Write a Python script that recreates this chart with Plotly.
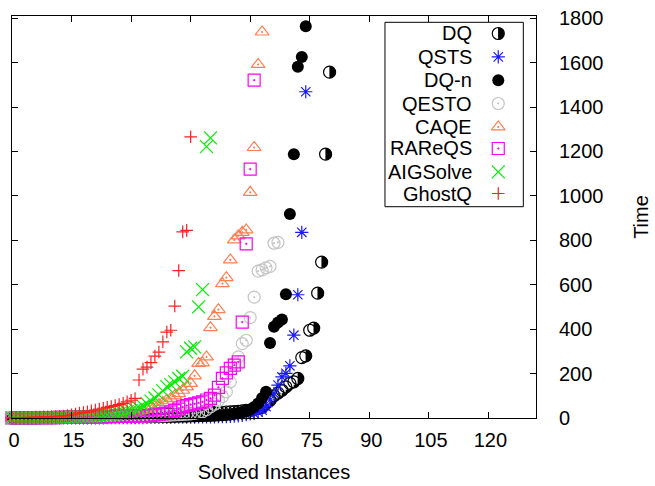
import plotly.graph_objects as go

# ---------------- data (sorted solving times; x = solved-instance index, 0-based) -------------
series_names = ["DQ", "QSTS", "DQ-n", "QESTO", "CAQE", "RAReQS", "AIGSolve", "GhostQ"]

dq_times = [0, 0, 0, 1, 1, 1, 1, 2, 2, 2, 2, 3, 3, 3, 4, 4, 4, 5, 5, 5,
            6, 6, 6, 7, 7, 8, 8, 9, 9, 10, 10, 11, 11, 12, 12, 13, 13, 14, 15, 15,
            16, 16, 17, 18, 18, 19, 20, 20, 21, 22, 23, 24, 25, 26, 27, 28, 29, 30, 32, 34,
            36, 39, 43, 48, 66, 80, 100, 112, 125, 140,
            156, 163, 178, 272, 280, 395, 405, 562, 702, 1188, 1557]

qsts_times = [0, 0, 0, 0, 0, 0, 0, 0, 0, 0, 1, 1, 1, 1, 1, 1, 1, 1, 1, 1,
              1, 1, 1, 1, 2, 2, 2, 2, 2, 2, 2, 2, 2, 2, 3, 3, 3, 3, 3, 3,
              3, 4, 4, 4, 4, 4, 4, 5, 5, 5, 5, 5, 6, 6, 6, 7, 8, 10, 12, 15,
              18, 20, 26, 35, 51, 81, 111, 148, 185, 201, 235, 373, 555, 836, 1469]

dqn_times = [0, 0, 0, 0, 0, 0, 0, 0, 1, 1, 1, 1, 1, 1, 1, 1, 1, 2, 2, 2,
             2, 2, 2, 2, 2, 3, 3, 3, 3, 3, 3, 3, 4, 4, 4, 4, 4, 4, 5, 5,
             5, 5, 6, 6, 6, 7, 7, 8, 8, 9, 9, 10, 11, 12, 13, 16, 19, 22, 26, 30,
             38, 50, 65, 90, 118, 338, 411, 430, 444, 557, 919, 1188, 1581, 1625, 1764]

qesto_times = [0, 0, 0, 0, 0, 0, 1, 1, 1, 1, 1, 1, 2, 2, 2, 2, 2, 3, 3, 3,
               3, 4, 4, 4, 5, 5, 5, 6, 6, 6, 7, 7, 8, 8, 9, 9, 10, 10, 11, 12,
               13, 14, 15, 16, 17, 19, 21, 24, 28, 38, 50, 62, 78,
               96, 118, 163, 246, 275, 335, 350, 452, 544, 661, 667, 676, 683, 787, 791]

caqe_times = [0, 0, 0, 0, 1, 1, 1, 1, 1, 2, 2, 2, 2, 3, 3, 3, 4, 4, 4, 5,
              5, 6, 6, 7, 8, 9, 10, 12, 14, 17,
              20, 24, 28, 33, 39, 45, 52, 60, 70, 80, 88, 100, 110, 125, 140, 156, 190,
              246, 248, 275, 407, 458, 488, 605, 632, 712, 802, 820, 836, 847, 1016, 1218, 1592, 1738]

rareqs_times = [0, 0, 1, 1, 1, 1, 1, 2, 2, 2, 2, 2, 3, 3, 3, 3, 4, 4, 4, 4,
                5, 5, 5, 6, 6, 6, 7, 7, 7, 8, 8, 9, 9, 10, 11,
                12, 14, 16, 19, 22, 27, 33, 40, 50, 56, 60, 64, 68, 73, 81, 88,
                103, 138, 178, 203, 223, 238, 253, 432, 784, 1121, 1521]

aigsolve_times = [0, 0, 0, 1, 1, 1, 1, 1, 2, 2, 2, 2, 3, 3, 3, 4, 4, 5, 5, 6,
                  7, 8, 10, 11, 13, 15, 18, 21, 24, 28, 33, 38, 45,
                  54, 64, 76, 90, 104, 122, 141, 150, 163, 178, 188,
                  298, 314, 320, 500, 578, 1222, 1261]

ghostq_times = [1, 1, 2, 2, 3, 3, 4, 4, 5, 5, 6, 7, 8, 9, 11, 14, 18, 22, 25, 28,
                32, 36, 40, 44, 48, 52, 56, 60, 66, 73, 80, 88,
                171, 220, 229, 249, 279, 297, 343, 387, 395, 504, 664, 838, 845, 1266]

x_ticks = [0, 15, 30, 45, 60, 75, 90, 105, 120]
y_ticks = [0, 200, 400, 600, 800, 1000, 1200, 1400, 1600, 1800]

# ---------------- layout constants ----------------
W, H = 655, 486
M_L, M_R, M_T, M_B = 12, 119, 16, 68
X_RANGE = [0, 132]
Y_RANGE = [0, 1810]
PLOT_W = W - M_L - M_R

# ---------------- styles ----------------
FONT = "Liberation Sans, Arial, Helvetica, sans-serif"
styles = {
    "QSTS": dict(symbol="asterisk-open", size=11, color="#1a1aff", line=dict(color="#1a1aff", width=1.2)),
    "DQ-n": dict(symbol="circle", size=12, color="black", line=dict(width=0)),
    "QESTO": dict(symbol="circle-open-dot", size=12, color="#c4c4c4", line=dict(color="#c4c4c4", width=1.2)),
    "CAQE": dict(symbol="triangle-up-open-dot", size=12, color="#ff7f50", line=dict(color="#ff7f50", width=1.2)),
    "RAReQS": dict(symbol="square-open-dot", size=12, color="#ff00ff", line=dict(color="#ff00ff", width=1.2)),
    "AIGSolve": dict(symbol="x-thin-open", size=13, color="#00ee00", line=dict(color="#00ee00", width=1.2)),
    "GhostQ": dict(symbol="cross-thin-open", size=9, color="#ff2020", line=dict(color="#ff2020", width=1.2)),
}
# DQ uses a half-filled circle (right half black), built from three marker layers:
# a black disc, a white bar masking its left half, and a black outline.
DQ_DISC = dict(symbol="circle", size=12, color="black", line=dict(width=0))
DQ_MASK = dict(symbol="line-ns-open", size=9, color="white", line=dict(color="white", width=6))
DQ_RING = dict(symbol="circle-open", size=12, color="black", line=dict(color="black", width=1.2))
MASK_SHIFT_PX = 3.2  # the mask sits half a bar-width left of the marker centre

data = {
    "DQ": dq_times, "QSTS": qsts_times, "DQ-n": dqn_times, "QESTO": qesto_times,
    "CAQE": caqe_times, "RAReQS": rareqs_times, "AIGSolve": aigsolve_times, "GhostQ": ghostq_times,
}


def add_dq_layers(fig, xs, ys, shift, **axes):
    common = dict(mode="markers", showlegend=False, cliponaxis=False, hoverinfo="skip", **axes)
    fig.add_trace(go.Scatter(x=xs, y=ys, marker=DQ_DISC, **common))
    fig.add_trace(go.Scatter(x=[v - shift for v in xs], y=ys, marker=DQ_MASK, **common))
    fig.add_trace(go.Scatter(x=xs, y=ys, marker=DQ_RING, **common))


fig = go.Figure()
main_shift = MASK_SHIFT_PX * (X_RANGE[1] - X_RANGE[0]) / PLOT_W
for name in series_names:
    vals = data[name]
    xs = list(range(len(vals)))
    if name == "DQ":
        add_dq_layers(fig, xs, vals, main_shift)
    else:
        fig.add_trace(go.Scatter(x=xs, y=vals, mode="markers", marker=styles[name],
                                 cliponaxis=False, showlegend=False, hoverinfo="skip"))

# ---------------- hand-made key (labels right-aligned, symbol on the right) ----------------
key_x0, key_x1, key_y0, key_y1 = 0.7118, 0.9758, 0.5256, 0.9843
key_label_x = 0.8817
key_symbol_x = 0.928
key_rows = [0.9565, 0.8983, 0.8400, 0.7823, 0.7241, 0.6704, 0.6122, 0.5584]

fig.add_shape(type="rect", xref="paper", yref="paper", x0=key_x0, x1=key_x1, y0=key_y0, y1=key_y1,
              line=dict(color="black", width=1), fillcolor="white", layer="below")
key_shift = MASK_SHIFT_PX / PLOT_W
for name, ry in zip(series_names, key_rows):
    fig.add_annotation(x=key_label_x, y=ry, xref="paper", yref="paper", text=name, showarrow=False,
                       xanchor="right", yanchor="middle", font=dict(family=FONT, size=20, color="black"))
    if name == "DQ":
        add_dq_layers(fig, [key_symbol_x], [ry], key_shift, xaxis="x2", yaxis="y2")
    else:
        fig.add_trace(go.Scatter(x=[key_symbol_x], y=[ry], xaxis="x2", yaxis="y2", mode="markers",
                                 marker=styles[name], showlegend=False, hoverinfo="skip", cliponaxis=False))

fig.update_layout(
    width=W, height=H,
    margin=dict(l=M_L, r=M_R, t=M_T, b=M_B, autoexpand=False),
    paper_bgcolor="white", plot_bgcolor="white",
    font=dict(family=FONT, size=20, color="black"),
    showlegend=False, hovermode=False,
    xaxis=dict(range=X_RANGE, tickvals=x_ticks, ticks="inside", ticklen=6, tickcolor="black",
               showline=True, linecolor="black", linewidth=1, mirror="ticks", showgrid=False,
               zeroline=False, ticklabelstandoff=4, ticklabelshift=2, ticklabeloverflow="allow",
               automargin=False,
               title=dict(text="Solved Instances", standoff=14, font=dict(size=20))),
    yaxis=dict(range=Y_RANGE, tickvals=y_ticks, side="right", ticks="inside", ticklen=6,
               tickcolor="black", showline=True, linecolor="black", linewidth=1, mirror="ticks",
               showgrid=False, zeroline=False, ticklabelstandoff=18, ticklabeloverflow="allow",
               automargin=False,
               title=dict(text="Time", standoff=31, font=dict(size=20))),
    xaxis2=dict(overlaying="x", range=[0, 1], visible=False, anchor="y2"),
    yaxis2=dict(overlaying="y", range=[0, 1], visible=False, anchor="x2"),
)

# drop the browser's default 8px page margin so the figure sits at the window's corner
fig.write_html("out.html", config={"displayModeBar": False},
               post_script="document.body.style.margin='0';")
